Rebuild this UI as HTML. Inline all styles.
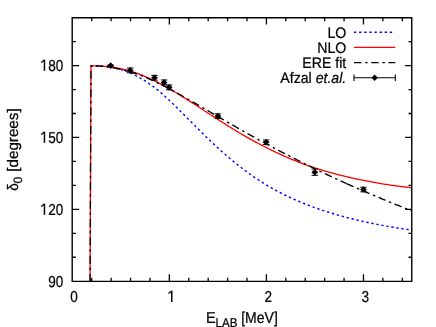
<!DOCTYPE html>
<html><head><meta charset="utf-8"><title>plot</title>
<style>html,body{margin:0;padding:0;background:#fff;overflow:hidden}body{width:436px;height:327px;position:relative;font-family:"Liberation Sans",sans-serif}</style>
</head><body>
<svg width="436" height="327" viewBox="0 0 436 327" style="position:absolute;left:0;top:0;will-change:transform">
<defs><filter id="f" x="0" y="0" width="436" height="327" filterUnits="userSpaceOnUse"><feOffset dx="0" dy="0"/></filter></defs>
<rect x="0" y="0" width="436" height="327" fill="#fff"/>
<g fill="none" stroke-linejoin="round">
<g transform="scale(1 1.0667)"><polyline points="91.00,61.69 92.34,61.72 93.69,61.73 95.03,61.75 96.37,61.77 97.72,61.81 99.06,61.86 100.40,61.93 101.74,62.02 103.09,62.13 104.43,62.24 105.77,62.38 107.12,62.54 108.46,62.73 109.80,62.93 111.15,63.15 112.49,63.39 113.83,63.64 115.18,63.91 116.52,64.18 117.86,64.48 119.21,64.80 120.55,65.15 121.89,65.51 123.23,65.91 124.58,66.33 125.92,66.77 127.26,67.23 128.61,67.73 129.95,68.26 131.29,68.81 132.64,69.39 133.98,70.00 135.32,70.64 136.67,71.31 138.01,71.99 139.35,72.69 140.69,73.41 142.04,74.14 143.38,74.90 144.72,75.68 146.07,76.49 147.41,77.32 148.75,78.18 150.10,79.06 151.44,79.96 152.78,80.87 154.13,81.80 155.47,82.76 156.81,83.74 158.15,84.74 159.50,85.78 160.84,86.85 162.18,87.95 163.53,89.07 164.87,90.21 166.21,91.37 167.56,92.54 168.90,93.72 170.24,94.91 171.59,96.11 172.93,97.32 174.27,98.54 175.62,99.77 176.96,101.01 178.30,102.25 179.64,103.50 180.99,104.76 182.33,106.01 183.67,107.27 185.02,108.54 186.36,109.80 187.70,111.07 189.05,112.34 190.39,113.61 191.73,114.87 193.08,116.14 194.42,117.40 195.76,118.67 197.10,119.93 198.45,121.18 199.79,122.43 201.13,123.68 202.48,124.92 203.82,126.16 205.16,127.39 206.51,128.61 207.85,129.83 209.19,131.04 210.54,132.24 211.88,133.43 213.22,134.62 214.56,135.79 215.91,136.96 217.25,138.12 218.59,139.27 219.94,140.41 221.28,141.54 222.62,142.66 223.97,143.77 225.31,144.86 226.65,145.95 228.00,147.03 229.34,148.10 230.68,149.16 232.03,150.21 233.37,151.25 234.71,152.28 236.05,153.30 237.40,154.31 238.74,155.31 240.08,156.30 241.43,157.27 242.77,158.24 244.11,159.19 245.46,160.14 246.80,161.07 248.14,161.99 249.49,162.90 250.83,163.80 252.17,164.68 253.51,165.56 254.86,166.42 256.20,167.27 257.54,168.12 258.89,168.94 260.23,169.76 261.57,170.57 262.92,171.36 264.26,172.15 265.60,172.92 266.95,173.68 268.29,174.43 269.63,175.16 270.97,175.89 272.32,176.60 273.66,177.31 275.00,178.00 276.35,178.69 277.69,179.36 279.03,180.02 280.38,180.68 281.72,181.32 283.06,181.96 284.41,182.58 285.75,183.20 287.09,183.81 288.44,184.41 289.78,185.00 291.12,185.59 292.46,186.16 293.81,186.73 295.15,187.29 296.49,187.85 297.84,188.39 299.18,188.93 300.52,189.46 301.87,189.98 303.21,190.49 304.55,191.00 305.90,191.50 307.24,191.99 308.58,192.48 309.92,192.95 311.27,193.43 312.61,193.89 313.95,194.35 315.30,194.80 316.64,195.25 317.98,195.69 319.33,196.13 320.67,196.56 322.01,196.98 323.36,197.40 324.70,197.81 326.04,198.22 327.38,198.62 328.73,199.02 330.07,199.42 331.41,199.81 332.76,200.19 334.10,200.57 335.44,200.94 336.79,201.31 338.13,201.67 339.47,202.03 340.82,202.39 342.16,202.73 343.50,203.08 344.85,203.42 346.19,203.75 347.53,204.09 348.87,204.41 350.22,204.73 351.56,205.05 352.90,205.37 354.25,205.67 355.59,205.98 356.93,206.28 358.28,206.58 359.62,206.87 360.96,207.16 362.31,207.45 363.65,207.73 364.99,208.01 366.33,208.28 367.68,208.55 369.02,208.82 370.36,209.08 371.71,209.34 373.05,209.60 374.39,209.85 375.74,210.10 377.08,210.35 378.42,210.59 379.77,210.83 381.11,211.06 382.45,211.30 383.79,211.53 385.14,211.75 386.48,211.98 387.82,212.20 389.17,212.42 390.51,212.63 391.85,212.84 393.20,213.05 394.54,213.26 395.88,213.47 397.23,213.67 398.57,213.87 399.91,214.06 401.26,214.26 402.60,214.45 403.94,214.64 405.28,214.82 406.63,215.01 407.97,215.19 409.31,215.37 410.66,215.55 412.00,215.73" stroke="#0000ff" stroke-width="1.35" stroke-dasharray="2.3 2.772" stroke-dashoffset="0.46"/></g>
<polyline points="90.05,281.20 91.00,65.81 92.34,65.83 93.69,65.84 95.03,65.86 96.37,65.88 97.72,65.90 99.06,65.95 100.40,66.02 101.74,66.10 103.09,66.20 104.43,66.30 105.77,66.42 107.12,66.56 108.46,66.73 109.80,66.90 111.15,67.09 112.49,67.29 113.83,67.50 115.18,67.72 116.52,67.94 117.86,68.17 119.21,68.42 120.55,68.68 121.89,68.96 123.23,69.26 124.58,69.57 125.92,69.90 127.26,70.24 128.61,70.60 129.95,70.98 131.29,71.38 132.64,71.80 133.98,72.23 135.32,72.69 136.67,73.16 138.01,73.65 139.35,74.16 140.69,74.68 142.04,75.22 143.38,75.77 144.72,76.33 146.07,76.90 147.41,77.49 148.75,78.09 150.10,78.70 151.44,79.33 152.78,79.97 154.13,80.62 155.47,81.28 156.81,81.96 158.15,82.65 159.50,83.35 160.84,84.07 162.18,84.79 163.53,85.52 164.87,86.27 166.21,87.02 167.56,87.78 168.90,88.55 170.24,89.33 171.59,90.11 172.93,90.90 174.27,91.70 175.62,92.50 176.96,93.31 178.30,94.13 179.64,94.94 180.99,95.77 182.33,96.59 183.67,97.42 185.02,98.26 186.36,99.09 187.70,99.93 189.05,100.77 190.39,101.62 191.73,102.47 193.08,103.33 194.42,104.20 195.76,105.06 197.10,105.93 198.45,106.81 199.79,107.68 201.13,108.55 202.48,109.43 203.82,110.31 205.16,111.18 206.51,112.06 207.85,112.93 209.19,113.81 210.54,114.68 211.88,115.55 213.22,116.42 214.56,117.28 215.91,118.15 217.25,119.01 218.59,119.87 219.94,120.73 221.28,121.59 222.62,122.45 223.97,123.31 225.31,124.16 226.65,125.01 228.00,125.86 229.34,126.70 230.68,127.54 232.03,128.37 233.37,129.20 234.71,130.02 236.05,130.84 237.40,131.65 238.74,132.45 240.08,133.25 241.43,134.03 242.77,134.82 244.11,135.59 245.46,136.36 246.80,137.12 248.14,137.88 249.49,138.63 250.83,139.38 252.17,140.12 253.51,140.86 254.86,141.59 256.20,142.31 257.54,143.03 258.89,143.75 260.23,144.45 261.57,145.16 262.92,145.85 264.26,146.54 265.60,147.22 266.95,147.90 268.29,148.57 269.63,149.24 270.97,149.90 272.32,150.55 273.66,151.20 275.00,151.84 276.35,152.47 277.69,153.10 279.03,153.73 280.38,154.34 281.72,154.95 283.06,155.56 284.41,156.15 285.75,156.75 287.09,157.33 288.44,157.91 289.78,158.48 291.12,159.05 292.46,159.61 293.81,160.17 295.15,160.71 296.49,161.26 297.84,161.79 299.18,162.32 300.52,162.85 301.87,163.36 303.21,163.87 304.55,164.36 305.90,164.85 307.24,165.33 308.58,165.80 309.92,166.26 311.27,166.71 312.61,167.16 313.95,167.60 315.30,168.04 316.64,168.46 317.98,168.88 319.33,169.30 320.67,169.71 322.01,170.12 323.36,170.52 324.70,170.91 326.04,171.30 327.38,171.69 328.73,172.08 330.07,172.46 331.41,172.84 332.76,173.21 334.10,173.57 335.44,173.93 336.79,174.29 338.13,174.64 339.47,174.98 340.82,175.32 342.16,175.65 343.50,175.98 344.85,176.30 346.19,176.62 347.53,176.94 348.87,177.25 350.22,177.55 351.56,177.86 352.90,178.15 354.25,178.45 355.59,178.74 356.93,179.03 358.28,179.31 359.62,179.59 360.96,179.86 362.31,180.14 363.65,180.41 364.99,180.68 366.33,180.94 367.68,181.20 369.02,181.46 370.36,181.72 371.71,181.97 373.05,182.22 374.39,182.46 375.74,182.70 377.08,182.94 378.42,183.17 379.77,183.40 381.11,183.62 382.45,183.84 383.79,184.06 385.14,184.27 386.48,184.48 387.82,184.69 389.17,184.89 390.51,185.08 391.85,185.28 393.20,185.46 394.54,185.65 395.88,185.83 397.23,186.01 398.57,186.18 399.91,186.36 401.26,186.52 402.60,186.69 403.94,186.85 405.28,187.00 406.63,187.16 407.97,187.31 409.31,187.45 410.66,187.60 412.00,187.73" stroke="#ff0000" stroke-width="1.30"/>
<g transform="scale(1 1.0667)">
<polyline points="90.05,263.62 90.54,159.92" stroke="#000" stroke-width="1.30" stroke-dasharray="7.45 3.75 2.45 3.55" stroke-dashoffset="0.8"/>
<polyline points="90.54,159.92 91.00,61.69 92.34,61.88 93.69,61.83 95.03,61.83 96.37,61.85 97.72,61.89 99.06,61.95 100.40,62.03 101.74,62.12 103.09,62.23 104.43,62.35 105.77,62.49 107.12,62.65 108.46,62.82 109.80,63.02 111.15,63.22 112.49,63.44 113.83,63.67 115.18,63.90 116.52,64.13 117.86,64.38 119.21,64.64 120.55,64.91 121.89,65.20 123.23,65.50 124.58,65.82 125.92,66.15 127.26,66.49 128.61,66.86 129.95,67.23 131.29,67.62 132.64,68.03 133.98,68.45 135.32,68.88 136.67,69.32 138.01,69.78 139.35,70.25 140.69,70.73 142.04,71.22 143.38,71.73 144.72,72.24 146.07,72.76 147.41,73.30 148.75,73.84 150.10,74.39 151.44,74.96 152.78,75.53 154.13,76.11 155.47,76.70 156.81,77.30 158.15,77.91 159.50,78.53 160.84,79.15 162.18,79.79 163.53,80.43 164.87,81.07 166.21,81.73 167.56,82.39 168.90,83.06 170.24,83.73 171.59,84.41 172.93,85.09 174.27,85.78 175.62,86.47 176.96,87.17 178.30,87.87 179.64,88.58 180.99,89.28 182.33,89.99 183.67,90.71 185.02,91.42 186.36,92.14 187.70,92.86 189.05,93.58 190.39,94.30 191.73,95.02 193.08,95.74 194.42,96.47 195.76,97.19 197.10,97.92 198.45,98.65 199.79,99.38 201.13,100.11 202.48,100.84 203.82,101.57 205.16,102.30 206.51,103.03 207.85,103.76 209.19,104.50 210.54,105.23 211.88,105.96 213.22,106.69 214.56,107.43 215.91,108.16 217.23,108.88" stroke="#000" stroke-width="1.30" stroke-dasharray="7.45 3.75 2.45 3.55" stroke-dashoffset="0.0"/>
<polyline points="217.23,108.88 217.25,108.89 218.59,109.62 219.94,110.35 221.28,111.08 222.62,111.81 223.97,112.54 225.31,113.27 226.65,114.00 228.00,114.72 229.34,115.45 230.68,116.17 232.03,116.90 233.37,117.62 234.71,118.34 236.05,119.06 237.40,119.78 238.74,120.50 240.08,121.22 241.43,121.93 242.77,122.65 244.11,123.36 245.46,124.07 246.80,124.78 248.14,125.48 249.49,126.19 250.83,126.89 252.17,127.59 253.51,128.29 254.86,128.99 256.20,129.68 257.54,130.37 258.89,131.06 260.23,131.75 261.57,132.44 262.92,133.12 264.26,133.81 265.60,134.49 266.95,135.16 268.29,135.84 269.63,136.52 270.97,137.19 272.32,137.86 273.66,138.53 275.00,139.19 276.35,139.86 277.69,140.52 279.03,141.18 280.38,141.84 281.72,142.50 283.06,143.16 284.41,143.81 285.75,144.46 287.09,145.11 288.44,145.76 289.78,146.41 291.12,147.05 292.46,147.70 293.81,148.34 295.15,148.98 296.49,149.62 297.84,150.26 299.18,150.89 300.52,151.53 301.87,152.16 303.21,152.79 304.55,153.42 305.90,154.05 307.24,154.67 308.58,155.30 309.92,155.92 311.27,156.54 312.61,157.16 313.95,157.77 315.30,158.39 316.64,159.00 317.98,159.61 319.33,160.22 320.67,160.82 322.01,161.43 323.36,162.03 324.70,162.63 326.04,163.23 327.38,163.83 328.73,164.42 330.07,165.01 331.41,165.61 332.76,166.19 334.10,166.78 335.44,167.37 336.79,167.95 338.13,168.53 339.47,169.11 340.82,169.69 342.16,170.26 343.50,170.83 344.85,171.40 346.19,171.97 346.62,172.15" stroke="#000" stroke-width="1.30" stroke-dasharray="7.45 3.75 2.45 3.55" stroke-dashoffset="0.0"/>
<polyline points="346.62,172.15 347.53,172.54 348.87,173.10 350.22,173.66 351.56,174.22 352.90,174.78 354.25,175.33 355.59,175.88 356.93,176.43 358.28,176.98 359.62,177.53 360.96,178.08 362.31,178.62 363.65,179.16 364.99,179.70 366.33,180.24 367.68,180.78 369.02,181.31 370.36,181.85 371.71,182.38 373.05,182.91 374.39,183.44 375.74,183.97 377.08,184.49 378.42,185.02 379.77,185.54 381.11,186.07 382.45,186.59 383.79,187.11 385.14,187.63 386.48,188.15 387.82,188.67 389.17,189.19 390.51,189.71 391.85,190.22 393.20,190.73 394.54,191.25 395.88,191.76 397.23,192.27 398.57,192.77 399.91,193.28 401.26,193.78 402.60,194.29 403.94,194.79 405.28,195.29 406.63,195.79 407.97,196.29 409.31,196.79 410.66,197.28 412.00,197.78" stroke="#000" stroke-width="1.30" stroke-dasharray="7.45 3.75 2.45 3.55" stroke-dashoffset="0.0"/>
</g>
</g>
<g fill="none">
<line x1="354.0" y1="32.2" x2="394.3" y2="32.2" stroke="#0000ff" stroke-width="1.35" stroke-dasharray="2.3 2.82"/>
<line x1="354.0" y1="47.3" x2="395.3" y2="47.3" stroke="#ff0000" stroke-width="1.30"/>
<line x1="354.0" y1="62.7" x2="395.3" y2="62.7" stroke="#000" stroke-width="1.30" stroke-dasharray="7.45 3.75 2.45 3.55"/>
<path d="M354.0 77.7H395.3M354.0 74.4v6.6M395.3 74.4v6.6" stroke="#000" stroke-width="1.1"/>
</g>
<path d="M371.35 77.70L374.65 74.40L377.95 77.70L374.65 81.00Z" fill="#000"/>
<path d="M110.64 65.13V66.09" stroke="#000" stroke-width="1.25" fill="none"/>
<path d="M107.44 65.13h6.4M107.44 66.09h6.4" stroke="#000" stroke-width="1.0" fill="none"/>
<path d="M107.34 65.61L110.64 62.31L113.94 65.61L110.64 68.91Z" fill="#000"/>
<path d="M130.24 68.00V72.80" stroke="#000" stroke-width="1.25" fill="none"/>
<path d="M127.04 68.00h6.4M127.04 72.80h6.4" stroke="#000" stroke-width="1.0" fill="none"/>
<path d="M126.94 70.40L130.24 67.10L133.54 70.40L130.24 73.70Z" fill="#000"/>
<path d="M154.51 75.36V80.15" stroke="#000" stroke-width="1.25" fill="none"/>
<path d="M151.31 75.36h6.4M151.31 80.15h6.4" stroke="#000" stroke-width="1.0" fill="none"/>
<path d="M151.21 77.75L154.51 74.45L157.81 77.75L154.51 81.05Z" fill="#000"/>
<path d="M164.12 79.98V84.77" stroke="#000" stroke-width="1.25" fill="none"/>
<path d="M160.92 79.98h6.4M160.92 84.77h6.4" stroke="#000" stroke-width="1.0" fill="none"/>
<path d="M160.82 82.38L164.12 79.08L167.42 82.38L164.12 85.68Z" fill="#000"/>
<path d="M169.16 85.01V89.80" stroke="#000" stroke-width="1.25" fill="none"/>
<path d="M165.96 85.01h6.4M165.96 89.80h6.4" stroke="#000" stroke-width="1.0" fill="none"/>
<path d="M165.86 87.41L169.16 84.11L172.46 87.41L169.16 90.71Z" fill="#000"/>
<path d="M217.89 113.88V118.43" stroke="#000" stroke-width="1.25" fill="none"/>
<path d="M214.69 113.88h6.4M214.69 118.43h6.4" stroke="#000" stroke-width="1.0" fill="none"/>
<path d="M214.59 116.15L217.89 112.85L221.19 116.15L217.89 119.45Z" fill="#000"/>
<path d="M266.22 139.99V144.54" stroke="#000" stroke-width="1.25" fill="none"/>
<path d="M263.02 139.99h6.4M263.02 144.54h6.4" stroke="#000" stroke-width="1.0" fill="none"/>
<path d="M262.92 142.26L266.22 138.96L269.52 142.26L266.22 145.56Z" fill="#000"/>
<path d="M314.75 169.09V175.32" stroke="#000" stroke-width="1.25" fill="none"/>
<path d="M311.55 169.09h6.4M311.55 175.32h6.4" stroke="#000" stroke-width="1.0" fill="none"/>
<path d="M311.45 172.21L314.75 168.91L318.05 172.21L314.75 175.51Z" fill="#000"/>
<path d="M363.47 187.25V191.80" stroke="#000" stroke-width="1.25" fill="none"/>
<path d="M360.27 187.25h6.4M360.27 191.80h6.4" stroke="#000" stroke-width="1.0" fill="none"/>
<path d="M360.17 189.53L363.47 186.23L366.77 189.53L363.47 192.83Z" fill="#000"/>
<path d="M91.71 281.20v-3.50M91.71 17.70v3.50M111.12 281.20v-3.50M111.12 17.70v3.50M130.53 281.20v-3.50M130.53 17.70v3.50M149.95 281.20v-3.50M149.95 17.70v3.50M169.36 281.20v-6.90M169.36 17.70v6.90M188.77 281.20v-3.50M188.77 17.70v3.50M208.18 281.20v-3.50M208.18 17.70v3.50M227.59 281.20v-3.50M227.59 17.70v3.50M247.00 281.20v-3.50M247.00 17.70v3.50M266.41 281.20v-6.90M266.41 17.70v6.90M285.83 281.20v-3.50M285.83 17.70v3.50M305.24 281.20v-3.50M305.24 17.70v3.50M324.65 281.20v-3.50M324.65 17.70v3.50M344.06 281.20v-3.50M344.06 17.70v3.50M363.47 281.20v-6.90M363.47 17.70v6.90M382.88 281.20v-3.50M382.88 17.70v3.50M402.29 281.20v-3.50M402.29 17.70v3.50M72.30 257.25h3.50M412.00 257.25h-3.50M72.30 233.29h3.50M412.00 233.29h-3.50M72.30 209.34h6.90M412.00 209.34h-6.90M72.30 185.38h3.50M412.00 185.38h-3.50M72.30 161.43h3.50M412.00 161.43h-3.50M72.30 137.47h6.90M412.00 137.47h-6.90M72.30 113.52h3.50M412.00 113.52h-3.50M72.30 89.56h3.50M412.00 89.56h-3.50M72.30 65.61h6.90M412.00 65.61h-6.90M72.30 41.65h3.50M412.00 41.65h-3.50" stroke="#000" stroke-width="1.30" fill="none"/>
<path d="M72.20 17.70V281.40M411.75 17.70V281.40M72.20 17.70H411.75M72.20 281.40H411.75" fill="none" stroke="#000" stroke-width="1.40" stroke-linecap="square"/>
<g font-family="Liberation Sans, sans-serif" font-size="14.00" fill="#000" stroke="#000" stroke-width="0.22" filter="url(#f)" text-rendering="geometricPrecision">
<text transform="translate(63.40 287.00) scale(0.970 1.130)" text-anchor="end">90</text>
<text transform="translate(63.40 215.14) scale(0.970 1.130)" text-anchor="end">20</text>
<text transform="translate(63.40 143.27) scale(0.970 1.130)" text-anchor="end">50</text>
<text transform="translate(63.40 71.41) scale(0.970 1.130)" text-anchor="end">80</text>
<text transform="translate(74.10 301.90) scale(0.970 1.130)" text-anchor="middle">0</text>
<text transform="translate(268.21 301.90) scale(0.970 1.130)" text-anchor="middle">2</text>
<text transform="translate(365.27 301.90) scale(0.970 1.130)" text-anchor="middle">3</text>
<text transform="translate(346.30 37.60) scale(1.010 1.090)" text-anchor="end">LO</text>
<text transform="translate(346.30 52.70) scale(1.010 1.090)" text-anchor="end">NLO</text>
<text transform="translate(346.30 68.10) scale(1.010 1.090)" text-anchor="end">ERE fit</text>
<text transform="translate(346.30 83.10) scale(1.010 1.090)" text-anchor="end">Afzal <tspan font-style="italic">et.al.</tspan></text>
<text transform="translate(205.90 323.20) scale(1.035 1.130)" text-anchor="start">E<tspan dy="3.40" font-size="11.20">LAB</tspan></text>
<text transform="translate(241.20 323.20) scale(1.000 1.130)" text-anchor="start">[MeV]</text>
<text transform="translate(18.40 190.80) rotate(-90) scale(0.966 1.090)" text-anchor="start">δ</text>
<text transform="translate(22.11 183.50) rotate(-90) scale(1.085 1.090)" text-anchor="start"><tspan font-size="11.20">0</tspan></text>
<text transform="translate(18.40 171.70) rotate(-90) scale(1.085 1.090)" text-anchor="start">[degrees]</text>
</g>
<path d="M44.45 214.90V203.70" stroke="#000" stroke-width="1.5" fill="none"/>
<path d="M44.30 204.05L41.20 206.60" stroke="#000" stroke-width="1.25" fill="none"/>
<path d="M44.45 142.90V131.70" stroke="#000" stroke-width="1.5" fill="none"/>
<path d="M44.30 132.05L41.20 134.60" stroke="#000" stroke-width="1.25" fill="none"/>
<path d="M44.45 70.90V59.70" stroke="#000" stroke-width="1.5" fill="none"/>
<path d="M44.30 60.05L41.20 62.60" stroke="#000" stroke-width="1.25" fill="none"/>
<path d="M171.75 301.90V290.70" stroke="#000" stroke-width="1.5" fill="none"/>
<path d="M171.60 291.05L168.50 293.60" stroke="#000" stroke-width="1.25" fill="none"/>
</svg>
</body></html>
